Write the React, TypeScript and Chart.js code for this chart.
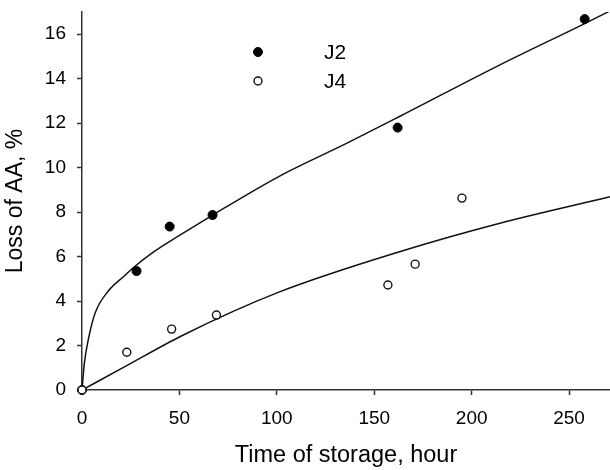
import { useEffect, useRef } from "react";
import { Chart, registerables } from "chart.js";

Chart.register(...registerables);

const FONT = "'Liberation Sans', Arial, Helvetica, sans-serif";

// Measured points
const j2Time = [0, 28, 45, 67, 162, 258];
const j2Loss = [0, 5.35, 7.35, 7.87, 11.8, 16.68];
const j4Time = [0, 23, 46, 69, 157, 171, 195];
const j4Loss = [0, 1.7, 2.74, 3.37, 4.72, 5.66, 8.63];

// Fitted curves
const j2FitTime = [0, 1.2, 3.2, 6.7, 13.5, 22, 26.3, 36.6, 50, 67.3, 101, 136, 163, 214, 258, 271];
const j2FitLoss = [0, 1.2, 2.25, 3.45, 4.45, 5.15, 5.5, 6.2, 6.95, 7.88, 9.6, 11.1, 12.3, 14.6, 16.48, 17.05];
const j4FitTime = [0, 22, 51, 101, 163, 214, 271];
const j4FitLoss = [0, 1.05, 2.43, 4.4, 6.22, 7.49, 8.69];

const xTicks = [0, 50, 100, 150, 200, 250];
const yTicks = [0, 2, 4, 6, 8, 10, 12, 14, 16];

const seriesNames = ["J2", "J4"];

const toXY = (xs: number[], ys: number[]) => xs.map((x, i) => ({ x, y: ys[i] }));

const legendPlugin = {
  id: "insetLegend",
  afterDatasetsDraw(chart: any) {
    const { ctx, chartArea } = chart;
    const rows = [
      { ds: chart.data.datasets[2], label: seriesNames[0], dy: 40 },
      { ds: chart.data.datasets[3], label: seriesNames[1], dy: 69 },
    ];
    ctx.save();
    rows.forEach((r) => {
      const cx = chartArea.left + 176;
      const cy = chartArea.top + r.dy;
      ctx.beginPath();
      ctx.arc(cx, cy, r.ds.pointRadius, 0, Math.PI * 2);
      ctx.fillStyle = r.ds.pointBackgroundColor;
      ctx.fill();
      ctx.lineWidth = r.ds.pointBorderWidth;
      ctx.strokeStyle = r.ds.pointBorderColor;
      ctx.stroke();
      ctx.fillStyle = "#000";
      ctx.font = `21px ${FONT}`;
      ctx.textAlign = "left";
      ctx.textBaseline = "middle";
      ctx.fillText(r.label, chartArea.left + 242, cy + 1);
    });
    ctx.restore();
  },
};

export default function App() {
  const ref = useRef<HTMLCanvasElement | null>(null);

  useEffect(() => {
    document.body.style.margin = "0";
    const canvas = ref.current;
    if (!canvas) return;
    const chart = new Chart(canvas, {
      type: "scatter",
      data: {
        datasets: [
          {
            type: "line",
            label: "J2 fit",
            data: toXY(j2FitTime, j2FitLoss),
            borderColor: "#111",
            borderWidth: 1.5,
            pointRadius: 0,
            fill: false,
            cubicInterpolationMode: "monotone",
            order: 3,
          } as any,
          {
            type: "line",
            label: "J4 fit",
            data: toXY(j4FitTime, j4FitLoss),
            borderColor: "#111",
            borderWidth: 1.5,
            pointRadius: 0,
            fill: false,
            cubicInterpolationMode: "monotone",
            order: 3,
          } as any,
          {
            label: seriesNames[0],
            data: toXY(j2Time, j2Loss),
            pointRadius: 4.5,
            pointBackgroundColor: "#000",
            pointBorderColor: "#000",
            pointBorderWidth: 1,
            clip: false,
            order: 2,
          } as any,
          {
            label: seriesNames[1],
            data: toXY(j4Time, j4Loss),
            pointRadius: 4,
            pointBackgroundColor: "#fff",
            pointBorderColor: "#111",
            pointBorderWidth: 1.4,
            clip: false,
            order: 1,
          } as any,
        ],
      },
      options: {
        animation: false,
        responsive: false,
        layout: { autoPadding: false, padding: { top: 12, left: 0, right: 0, bottom: 0 } },
        plugins: { legend: { display: false }, tooltip: { enabled: false } },
        scales: {
          x: {
            type: "linear",
            min: 0,
            max: 271,
            afterBuildTicks: (s: any) => {
              s.ticks = xTicks.map((value) => ({ value }));
            },
            afterFit: (s: any) => {
              s.height = 80;
              s.paddingLeft = 0;
              s.paddingRight = 0;
            },
            grid: {
              display: true,
              drawOnChartArea: false,
              drawTicks: true,
              tickLength: 5,
              tickColor: "#333",
              tickWidth: 1.5,
            },
            border: { display: true, color: "#333", width: 1.5 },
            ticks: {
              color: "#000",
              font: { family: FONT, size: 19 },
              padding: 12,
              maxRotation: 0,
              autoSkip: false,
            },
            title: {
              display: true,
              text: "Time of storage, hour",
              color: "#000",
              font: { family: FONT, size: 23.5 },
              padding: { top: 0, bottom: 0 },
            },
          },
          y: {
            type: "linear",
            min: 0,
            max: 17,
            afterBuildTicks: (s: any) => {
              s.ticks = yTicks.map((value) => ({ value }));
            },
            afterFit: (s: any) => {
              s.width = 82;
              s.paddingTop = 0;
              s.paddingBottom = 0;
            },
            grid: {
              display: true,
              drawOnChartArea: false,
              drawTicks: true,
              tickLength: 5,
              tickColor: "#333",
              tickWidth: 1.5,
            },
            border: { display: true, color: "#333", width: 1.5 },
            ticks: {
              color: "#000",
              font: { family: FONT, size: 19 },
              padding: 11,
              autoSkip: false,
            },
            title: {
              display: true,
              text: "Loss of AA, %",
              color: "#000",
              font: { family: FONT, size: 23 },
              padding: { top: 2, bottom: 0 },
            },
          },
        },
      },
      plugins: [legendPlugin],
    });
    return () => chart.destroy();
  }, []);

  return (
    <div style={{ position: "absolute", left: 0, top: 0, width: 610, height: 470, background: "#fff" }}>
      <canvas ref={ref} width={610} height={470} style={{ width: 610, height: 470, display: "block" }} />
    </div>
  );
}
